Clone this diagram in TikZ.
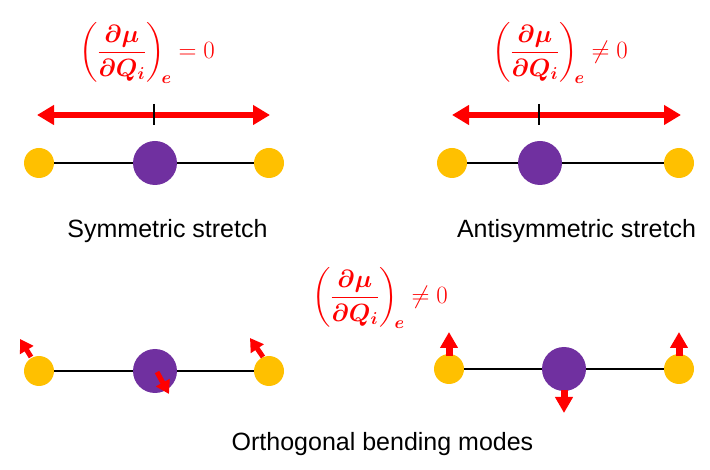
\documentclass[tikz,border=0pt]{standalone}
\usepackage{amsmath,bm}
\usepackage{fontspec}
\setmainfont{Liberation Sans}
\usetikzlibrary{arrows.meta}
\definecolor{atomY}{HTML}{FFC000}
\definecolor{atomP}{HTML}{7030A0}
\definecolor{vred}{HTML}{FF0000}
\begin{document}
\begin{tikzpicture}[x=1pt,y=-1pt,
  yat/.style={circle,fill=atomY,minimum size=30pt,inner sep=0pt},
  pat/.style={circle,fill=atomP,minimum size=44pt,inner sep=0pt},
  bond/.style={line width=2pt,black},
  bigarr/.style={vred,line width=6pt,{Triangle[length=17pt,width=19pt]}-{Triangle[length=17pt,width=19pt]}},
  tick/.style={black,line width=1.5pt},
  smallarr/.style={vred,line width=5pt,-{Triangle[length=13pt,width=15pt]}},
  vertarr/.style={vred,line width=7pt,-{Triangle[length=16pt,width=17pt]}},
  caption/.style={font=\fontsize{25}{30}\selectfont,anchor=base,inner sep=0pt},
  formula/.style={text=vred,font=\fontsize{26}{30}\selectfont,anchor=base west,inner sep=0pt},
]
\useasboundingbox (0,0) rectangle (710,470);

% ---------- Symmetric stretch ----------
\node[formula] (f1) at (79,59) {$\left(\dfrac{\bm{\partial\mu}}{\bm{\partial Q_{i}}}\right)_{\!\bm{e}}=0$};
\coordinate (a1l) at (37,115);
\coordinate (a1r) at (270,115);
\draw[bigarr] (a1l) -- (a1r);
\coordinate (t1a) at (154,104);
\coordinate (t1b) at (154,125);
\draw[tick] (t1a) -- (t1b);
\node[yat] (s1) at (39,163) {};
\node[pat] (s2) at (155,163) {};
\node[yat] (s3) at (269,163) {};
\draw[bond] (s1.east) -- (s2.west);
\draw[bond] (s2.east) -- (s3.west);
\node[caption] (c1) at (167.5,238) {Symmetric stretch};

% ---------- Antisymmetric stretch ----------
\node[formula] (f2) at (492,59) {$\left(\dfrac{\bm{\partial\mu}}{\bm{\partial Q_{i}}}\right)_{\!\bm{e}}\neq 0$};
\coordinate (a2l) at (452,115);
\coordinate (a2r) at (681,115);
\draw[bigarr] (a2l) -- (a2r);
\coordinate (t2a) at (539,104);
\coordinate (t2b) at (539,125);
\draw[tick] (t2a) -- (t2b);
\node[yat] (r1) at (452,163) {};
\node[pat] (r2) at (540,163) {};
\node[yat] (r3) at (679,163) {};
\draw[bond] (r1.east) -- (r2.west);
\draw[bond] (r2.east) -- (r3.west);
\node[caption] (c2) at (576.5,238) {Antisymmetric stretch};

% ---------- Bending ----------
\node[formula] (f3) at (312,304) {$\left(\dfrac{\bm{\partial\mu}}{\bm{\partial Q_{i}}}\right)_{\!\bm{e}}\neq 0$};

\node[yat] (b1) at (39,371) {};
\node[pat] (b2) at (155,371) {};
\node[yat] (b3) at (269,371) {};
\draw[bond] (b1.east) -- (b2.west);
\draw[bond] (b2.east) -- (b3.west);
\coordinate (b1t) at (31,357);
\coordinate (b1h) at (20,339);
\draw[smallarr] (b1t) -- (b1h);
\coordinate (b2t) at (157,372);
\coordinate (b2h) at (169,394);
\draw[smallarr] (b2t) -- (b2h);
\coordinate (b3t) at (263,357);
\coordinate (b3h) at (250,338);
\draw[smallarr] (b3t) -- (b3h);

\node[yat] (d1) at (449,369) {};
\node[pat] (d2) at (564,369) {};
\node[yat] (d3) at (679,369) {};
\draw[bond] (d1.east) -- (d2.west);
\draw[bond] (d2.east) -- (d3.west);
\coordinate (d1t) at (449,356);
\coordinate (d1h) at (449,332);
\draw[vertarr] (d1t) -- (d1h);
\coordinate (d2t) at (564,390);
\coordinate (d2h) at (564,413);
\draw[vertarr] (d2t) -- (d2h);
\coordinate (d3t) at (679,356);
\coordinate (d3h) at (679,332);
\draw[vertarr] (d3t) -- (d3h);

\node[caption] (c3) at (382.5,450) {Orthogonal bending modes};
\end{tikzpicture}
\end{document}
